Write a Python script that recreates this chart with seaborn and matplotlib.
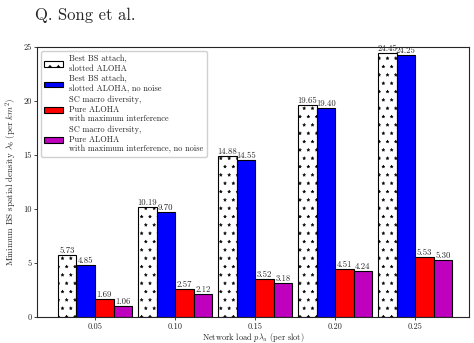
import matplotlib
matplotlib.use("Agg")
import matplotlib.pyplot as plt
import matplotlib.hatch
import seaborn as sns
import pandas as pd

# data
loads = ["0.05", "0.10", "0.15", "0.20", "0.25"]
series = [
    "Best BS attach,\nslotted ALOHA",
    "Best BS attach,\nslotted ALOHA, no noise",
    "SC macro diversity,\nPure ALOHA\nwith maximum interference",
    "SC macro diversity,\nPure ALOHA\nwith maximum interference, no noise",
]
best_bs = [5.73, 10.19, 14.88, 19.65, 24.45]
best_bs_nn = [4.85, 9.70, 14.55, 19.40, 24.25]
sc_macro = [1.69, 2.57, 3.52, 4.51, 5.53]
sc_macro_nn = [1.06, 2.12, 3.18, 4.24, 5.30]
colors = ["white", "#0000ff", "#ff0000", "#bf00bf"]

rows = []
for name, vals in zip(series, [best_bs, best_bs_nn, sc_macro, sc_macro_nn]):
    for x, v in zip(loads, vals):
        rows.append({"load": x, "series": name, "value": v})
df = pd.DataFrame(rows)

sns.set_style("ticks")
plt.rcParams["font.family"] = ["cmr10", "DejaVu Serif"]
plt.rcParams["mathtext.fontset"] = "cm"
plt.rcParams["axes.unicode_minus"] = False
plt.rcParams["hatch.linewidth"] = 0.3
# smaller stars in the hatch pattern
matplotlib.hatch.Stars.size = 0.18

fig = plt.figure(figsize=(4.74, 3.43), dpi=100)
ax = fig.add_axes([0.078, 0.075, 0.912, 0.788])
sns.barplot(data=df, x="load", y="value", hue="series", palette=colors,
            width=0.925, edgecolor="black", linewidth=0.8, ax=ax, saturation=1)

# star hatch on first series
for bar in ax.containers[0]:
    bar.set_hatch("**")
for cont in ax.containers:
    ax.bar_label(cont, fmt="%.2f", fontsize=6.3, padding=0)

ax.set_ylim(0, 25)
ax.set_xlim(-0.725, 4.675)
ax.set_yticks([0, 5, 10, 15, 20, 25])
ax.tick_params(labelsize=6, length=2.5, width=0.6, pad=1.5)
ax.set_xlabel(r"Network load $p\lambda_u$ (per slot)", fontsize=6, labelpad=-0.5)
ax.set_ylabel(r"Minimum BS spatial density $\lambda_b$ (per $km^2$)", fontsize=6.5, labelpad=3)
for s in ax.spines.values():
    s.set_visible(True)
    s.set_linewidth(0.8)

h, l = ax.get_legend_handles_labels()
h[0].set_hatch("**")
ax.legend(h, l, loc="upper left", fontsize=6, frameon=True, handlelength=2.2,
          borderpad=0.4, labelspacing=0.3, fancybox=True, framealpha=1,
          edgecolor="#d0d0d0", bbox_to_anchor=(0.0, 1.0))

fig.text(0.074, 0.955, "Q. Song et al.", fontsize=12, ha="left", va="center")
fig.savefig("out.png", dpi=100)
